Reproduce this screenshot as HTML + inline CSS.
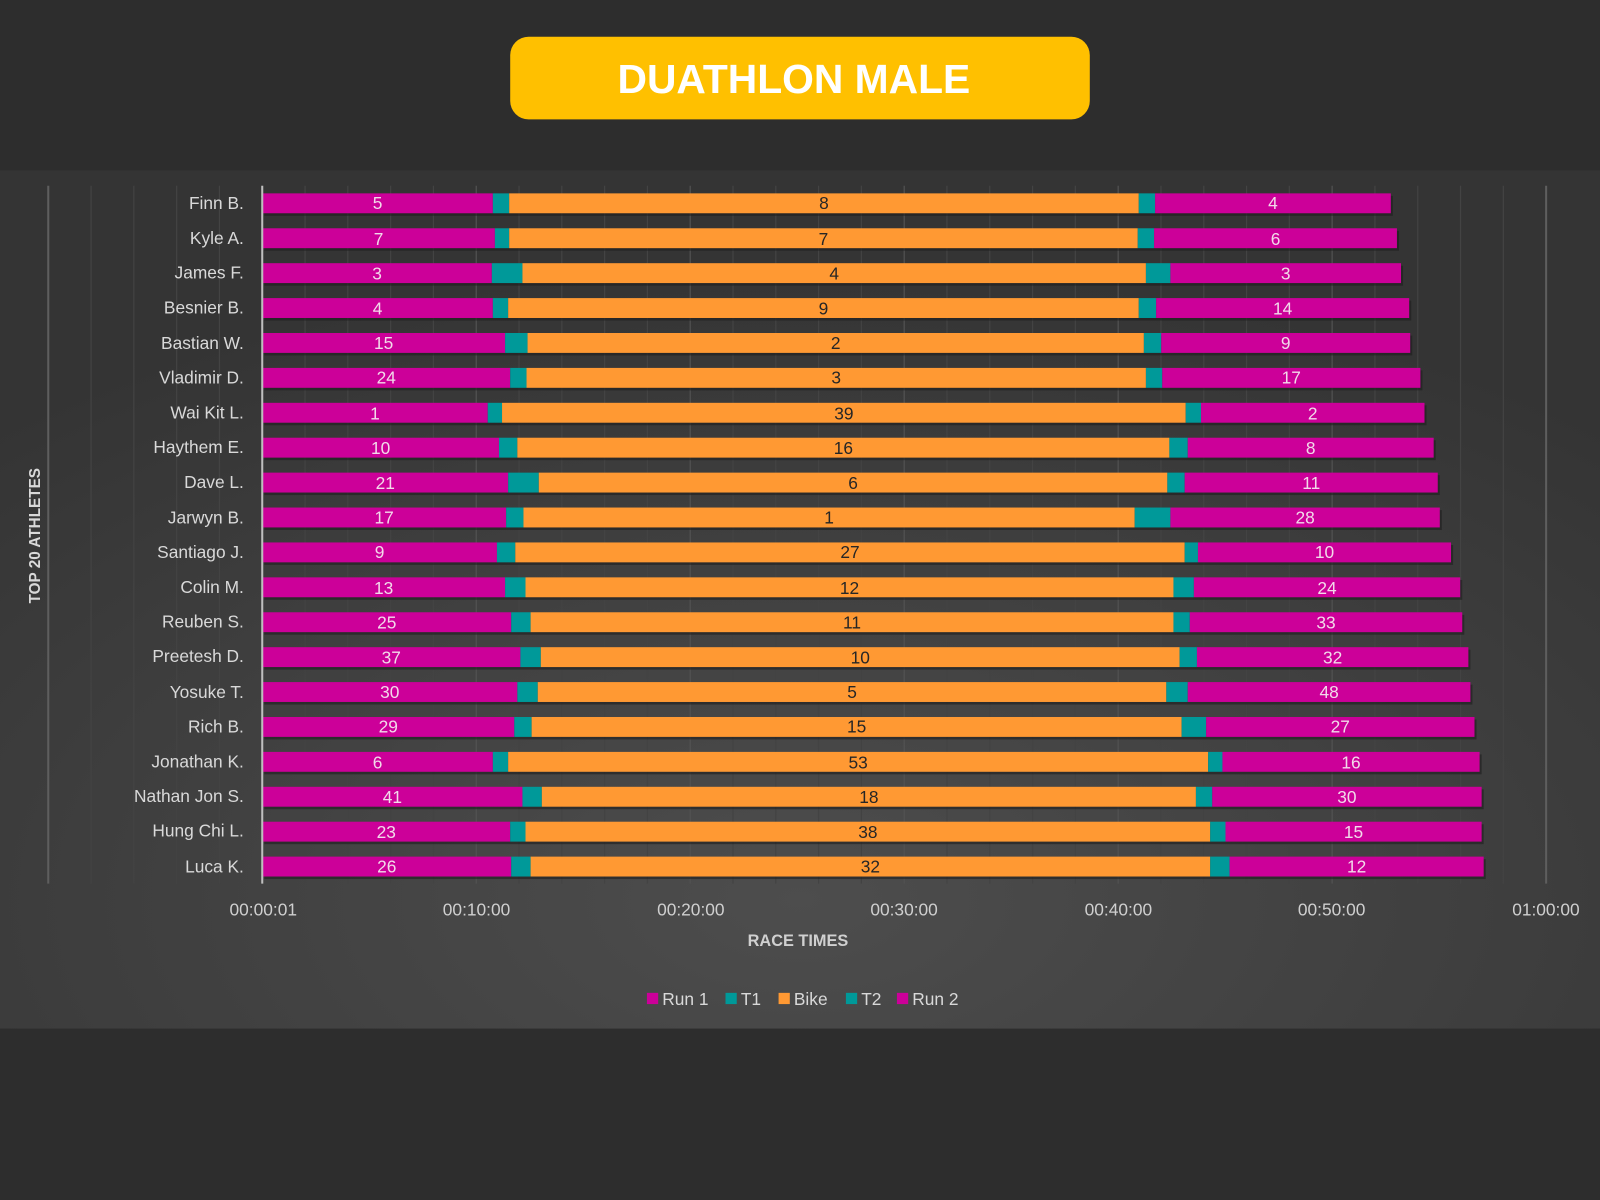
<!DOCTYPE html>
<html><head><meta charset="utf-8"><style>
html,body{margin:0;padding:0;background:#2d2d2d;width:1600px;height:1200px;overflow:hidden}
svg{display:block}
text{font-family:"Liberation Sans",sans-serif}
.n{fill:#d9d9d9;font-size:17px;text-anchor:end}
.m{fill:#f2d9ea;font-size:17px;text-anchor:middle}
.o{fill:#262626;font-size:17px;text-anchor:middle}
.t{fill:#cfcfcf;font-size:17px;text-anchor:middle}
</style></head><body>
<svg id="s" width="1600" height="1200" viewBox="0 0 1568 1176" xmlns="http://www.w3.org/2000/svg">
<defs>
<radialGradient id="bg" cx="0.5" cy="0.85" r="0.75">
<stop offset="0" stop-color="#4d4d4d"/><stop offset="1" stop-color="#343434"/>
</radialGradient>
</defs>
<rect width="1568" height="1176" fill="#2d2d2d"/>
<rect x="0" y="167" width="1568" height="841" fill="url(#bg)"/>
<rect x="500" y="36" width="568" height="81" rx="18" fill="#FFC000"/>
<text x="778" y="91" text-anchor="middle" fill="#fff" font-size="40" font-weight="bold" style="font-family:'Liberation Sans',sans-serif">DUATHLON MALE</text>
<g id="grid"></g>
<g id="bars"></g>
<line x1="257" y1="182" x2="257" y2="866" stroke="#bfbfbf" stroke-width="2"/>
<g>
<text class="n" x="239" y="205">Finn B.</text>
<text class="n" x="239" y="239">Kyle A.</text>
<text class="n" x="239" y="273">James F.</text>
<text class="n" x="239" y="307">Besnier B.</text>
<text class="n" x="239" y="342">Bastian W.</text>
<text class="n" x="239" y="376">Vladimir D.</text>
<text class="n" x="239" y="410">Wai Kit L.</text>
<text class="n" x="239" y="444">Haythem E.</text>
<text class="n" x="239" y="478">Dave L.</text>
<text class="n" x="239" y="513">Jarwyn B.</text>
<text class="n" x="239" y="547">Santiago J.</text>
<text class="n" x="239" y="581">Colin M.</text>
<text class="n" x="239" y="615">Reuben S.</text>
<text class="n" x="239" y="649">Preetesh D.</text>
<text class="n" x="239" y="684">Yosuke T.</text>
<text class="n" x="239" y="718">Rich B.</text>
<text class="n" x="239" y="752">Jonathan K.</text>
<text class="n" x="239" y="786">Nathan Jon S.</text>
<text class="n" x="239" y="820">Hung Chi L.</text>
<text class="n" x="239" y="855">Luca K.</text>
</g>
<g>
<text class="m" x="370" y="205">5</text><text class="o" x="807.5" y="205">8</text><text class="m" x="1247.5" y="205">4</text>
<text class="m" x="371" y="240">7</text><text class="o" x="807" y="240">7</text><text class="m" x="1250" y="240">6</text>
<text class="m" x="369.5" y="274">3</text><text class="o" x="817.5" y="274">4</text><text class="m" x="1260" y="274">3</text>
<text class="m" x="370" y="308">4</text><text class="o" x="807" y="308">9</text><text class="m" x="1257" y="308">14</text>
<text class="m" x="376" y="342">15</text><text class="o" x="819" y="342">2</text><text class="m" x="1260" y="342">9</text>
<text class="m" x="378.5" y="376">24</text><text class="o" x="819.5" y="376">3</text><text class="m" x="1265.5" y="376">17</text>
<text class="m" x="367.5" y="411">1</text><text class="o" x="827" y="411">39</text><text class="m" x="1286.5" y="411">2</text>
<text class="m" x="373" y="445">10</text><text class="o" x="826.5" y="445">16</text><text class="m" x="1284.5" y="445">8</text>
<text class="m" x="377.5" y="479">21</text><text class="o" x="836" y="479">6</text><text class="m" x="1285" y="479">11</text>
<text class="m" x="376.5" y="513">17</text><text class="o" x="812.5" y="513">1</text><text class="m" x="1279" y="513">28</text>
<text class="m" x="372" y="547">9</text><text class="o" x="833" y="547">27</text><text class="m" x="1298" y="547">10</text>
<text class="m" x="376" y="582">13</text><text class="o" x="832.5" y="582">12</text><text class="m" x="1300.5" y="582">24</text>
<text class="m" x="379" y="616">25</text><text class="o" x="835" y="616">11</text><text class="m" x="1299.5" y="616">33</text>
<text class="m" x="383.5" y="650">37</text><text class="o" x="843" y="650">10</text><text class="m" x="1306" y="650">32</text>
<text class="m" x="382" y="684">30</text><text class="o" x="835" y="684">5</text><text class="m" x="1302.5" y="684">48</text>
<text class="m" x="380.5" y="718">29</text><text class="o" x="839.5" y="718">15</text><text class="m" x="1313.5" y="718">27</text>
<text class="m" x="370" y="753">6</text><text class="o" x="841" y="753">53</text><text class="m" x="1324" y="753">16</text>
<text class="m" x="384.5" y="787">41</text><text class="o" x="851.5" y="787">18</text><text class="m" x="1320" y="787">30</text>
<text class="m" x="378.5" y="821">23</text><text class="o" x="850.5" y="821">38</text><text class="m" x="1326.5" y="821">15</text>
<text class="m" x="379" y="855">26</text><text class="o" x="853" y="855">32</text><text class="m" x="1329.5" y="855">12</text>
</g>
<g>
<text class="t" x="258" y="897">00:00:01</text>
<text class="t" x="467" y="897">00:10:00</text>
<text class="t" x="677" y="897">00:20:00</text>
<text class="t" x="886" y="897">00:30:00</text>
<text class="t" x="1096" y="897">00:40:00</text>
<text class="t" x="1305" y="897">00:50:00</text>
<text class="t" x="1515" y="897">01:00:00</text>
</g>
<text x="782" y="927" text-anchor="middle" fill="#d0d0d0" font-size="16" font-weight="bold">RACE TIMES</text>
<text transform="translate(39,525) rotate(-90)" text-anchor="middle" fill="#d9d9d9" font-size="15" font-weight="bold">TOP 20 ATHLETES</text>
<g font-size="17" fill="#d9d9d9">
<rect x="634" y="973" width="11" height="11" fill="#CC0099"/><text x="649" y="985">Run 1</text>
<rect x="711" y="973" width="11" height="11" fill="#009999"/><text x="726" y="985">T1</text>
<rect x="763" y="973" width="11" height="11" fill="#FF9933"/><text x="778" y="985">Bike</text>
<rect x="829" y="973" width="11" height="11" fill="#009999"/><text x="844" y="985">T2</text>
<rect x="879" y="973" width="11" height="11" fill="#CC0099"/><text x="894" y="985">Run 2</text>
</g>
</svg>
<script>
var ns="http://www.w3.org/2000/svg";
var g=document.getElementById("grid");
for(var m=-10;m<=60;m+=2){
 var x=257+m*20.97;
 var l=document.createElementNS(ns,"line");
 l.setAttribute("x1",x);l.setAttribute("x2",x);l.setAttribute("y1",182);l.setAttribute("y2",866);
 var major=(m==-10||m==60);
 l.setAttribute("stroke",major?"#5e5e5e":(m%10==0?"#525252":"#434343"));l.setAttribute("stroke-width",major?2:1.2);
 g.appendChild(l);
}
var d=[[483,499,1116,1132,1363],[485,499,1115,1131,1369],[482,512,1123,1147,1373],[483,498,1116,1133,1381],
[495,517,1121,1138,1382],[500,516,1123,1139,1392],[478,492,1162,1177,1396],[489,507,1146,1164,1405],
[498,528,1144,1161,1409],[496,513,1112,1147,1411],[487,505,1161,1174,1422],[495,515,1150,1170,1431],
[501,520,1150,1166,1433],[510,530,1156,1173,1439],[507,527,1143,1164,1441],[504,521,1158,1182,1445],
[483,498,1184,1198,1450],[512,531,1172,1188,1452],[500,515,1186,1201,1452],[501,520,1186,1205,1454]];
var c=["#CC0099","#009999","#FF9933","#009999","#CC0099"];
var b=document.getElementById("bars");
d.forEach(function(r,i){
 var y=199+i*34.21;
 var sh=document.createElementNS(ns,"rect");
 sh.setAttribute("x",259);sh.setAttribute("y",y-7);sh.setAttribute("width",r[4]-257);sh.setAttribute("height",19.5);sh.setAttribute("fill","#1e1e1e");sh.setAttribute("opacity","0.6");
 b.appendChild(sh);
 var p=257;
 r.forEach(function(e,k){
  var q=document.createElementNS(ns,"rect");
  q.setAttribute("x",p);q.setAttribute("y",y-9.5);q.setAttribute("width",e-p);q.setAttribute("height",19.5);q.setAttribute("fill",c[k]);
  b.appendChild(q);p=e;
 });
});
</script>
</body></html>
